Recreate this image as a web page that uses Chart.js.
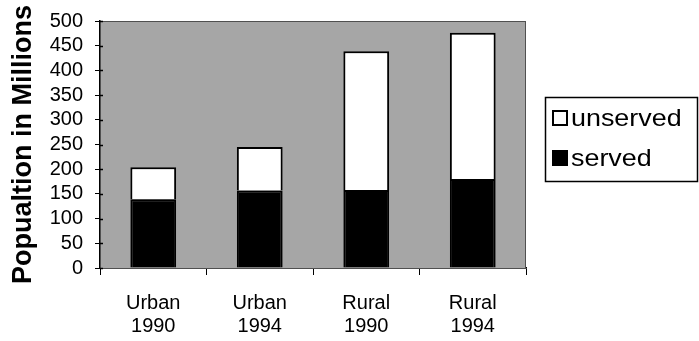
<!DOCTYPE html>
<html>
<head>
<meta charset="utf-8">
<script src="https://cdn.jsdelivr.net/npm/chart.js@4/dist/chart.umd.min.js"></script>
<style>
  html, body { margin: 0; padding: 0; background: #ffffff; }
  #wrap { position: relative; width: 699px; height: 341px; }
</style>
</head>
<body>
<div id="wrap"><canvas id="c" width="699" height="341"></canvas></div>
<script>
const categories = [["Urban", "1990"], ["Urban", "1994"], ["Rural", "1990"], ["Rural", "1994"]];
const servedValues = [139, 157, 158, 180];
const unservedValues = [65, 88, 281, 296];
const yTicks = [0, 50, 100, 150, 200, 250, 300, 350, 400, 450, 500];
const yTitle = "Popualtion in Millions";
const seriesNames = ["served", "unserved"];

const FONT = "'Liberation Sans', Arial, Helvetica, sans-serif";

const plotBg = {
  id: 'plotBg',
  beforeDatasetsDraw(chart) {
    const {ctx, chartArea: a} = chart;
    ctx.save();
    ctx.fillStyle = '#a6a6a6';
    ctx.fillRect(a.left, a.top, a.right - a.left, a.bottom - a.top);
    ctx.strokeStyle = '#505050';
    ctx.lineWidth = 1;
    ctx.strokeRect(a.left + 0.5, a.top + 0.5, a.right - a.left - 1, a.bottom - a.top);
    ctx.restore();
  },
  afterDraw(chart) {
    const {ctx, chartArea: a, scales} = chart;
    ctx.save();
    ctx.strokeStyle = '#000';
    ctx.lineWidth = 1.5;
    scales.y.ticks.forEach(t => {
      const y = Math.round(scales.y.getPixelForValue(t.value)) + 0.5;
      ctx.beginPath();
      ctx.moveTo(a.left, y);
      ctx.lineTo(a.left + 3, y);
      ctx.stroke();
    });
    ctx.restore();
  }
};

const boxLegend = {
  id: 'boxLegend',
  afterDraw(chart) {
    const ctx = chart.ctx;
    ctx.save();
    const bx = 545, by = 97, bw = 152, bh = 84;
    ctx.fillStyle = '#ffffff';
    ctx.fillRect(bx, by, bw, bh);
    ctx.strokeStyle = '#000';
    ctx.lineWidth = 1.5;
    ctx.strokeRect(bx + 0.5, by + 0.5, bw, bh);
    const ds = chart.data.datasets;
    const items = [ds[1], ds[0]];
    const rows = [118, 158];
    ctx.textBaseline = 'middle';
    ctx.textAlign = 'left';
    items.forEach((d, i) => {
      const cy = rows[i];
      ctx.fillStyle = d.backgroundColor;
      ctx.fillRect(553, cy - 7, 14, 14);
      ctx.strokeStyle = '#000';
      ctx.lineWidth = 2;
      ctx.strokeRect(553, cy - 7, 14, 14);
      ctx.save();
      ctx.translate(571, cy + 1);
      ctx.scale(1.12, 1);
      ctx.font = '24px ' + FONT;
      ctx.fillStyle = '#000';
      ctx.fillText(d.label, 0, 0);
      ctx.restore();
    });
    ctx.restore();
  }
};

new Chart(document.getElementById('c'), {
  type: 'bar',
  data: {
    labels: categories,
    datasets: [
      { label: seriesNames[0], data: servedValues, backgroundColor: '#000000', borderColor: '#000000', borderWidth: 2 },
      { label: seriesNames[1], data: unservedValues, backgroundColor: '#ffffff', borderColor: '#000000', borderWidth: 2 }
    ]
  },
  options: {
    responsive: false,
    animation: false,
    layout: { padding: { left: 0, top: 20, right: 173, bottom: 0 } },
    plugins: { legend: { display: false }, tooltip: { enabled: false } },
    datasets: { bar: { categoryPercentage: 1, barPercentage: 0.43 } },
    scales: {
      x: {
        stacked: true,
        grid: { display: true, drawOnChartArea: false, drawTicks: true, tickLength: 7, color: '#000', offset: true },
        border: { display: true, color: '#000', width: 1.5 },
        ticks: { color: '#000', font: { family: FONT, size: 20, lineHeight: 1.15 }, padding: 17, maxRotation: 0 },
        afterFit(scale) { scale.height = 73; }
      },
      y: {
        stacked: true,
        min: 0, max: 500,
        afterBuildTicks(scale) { scale.ticks = yTicks.map(v => ({ value: v })); },
        grid: { display: true, drawOnChartArea: false, drawTicks: true, tickLength: 5, color: '#000' },
        border: { display: true, color: '#000', width: 1.5 },
        ticks: { color: '#000', font: { family: FONT, size: 20, lineHeight: 0.9 }, padding: 12, autoSkip: false },
        title: { display: true, text: yTitle, color: '#000', font: { family: FONT, size: 27, weight: 'bold', lineHeight: 1.2 }, padding: { top: 7, bottom: 0 } },
        afterFit(scale) { scale.width = 100; }
      }
    }
  },
  plugins: [plotBg, boxLegend]
});
</script>
</body>
</html>
